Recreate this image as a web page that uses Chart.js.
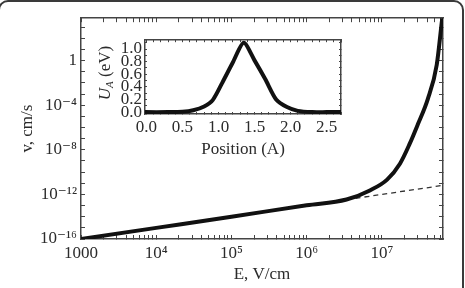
<!DOCTYPE html>
<html>
<head>
<meta charset="utf-8">
<script src="https://cdn.jsdelivr.net/npm/chart.js@4.4.0/dist/chart.umd.min.js"></script>
<style>
  body { margin: 0; background: #fff; }
  #wrap { position: relative; width: 465px; height: 288px; overflow: hidden; background: #fff; }
  #mainChart { position: absolute; left: 0; top: 0; }
  #insetChart { position: absolute; left: 95px; top: 25px; }
  #uLabel {
    position: absolute; left: 105px; top: 73px;
    transform: translate(-50%, -50%) rotate(-90deg);
    white-space: nowrap; color: #2b2b2b;
    font: 17px 'Liberation Serif', 'DejaVu Serif', serif;
  }
  #uLabel sub { font-size: 11px; font-style: italic; vertical-align: -3px; }
  #frame {
    position: absolute; left: -2px; top: 0; width: 466px; height: 320px;
    box-sizing: border-box; border: 2px solid #3a3a3a; border-radius: 10px;
  }
</style>
</head>
<body>
<div id="wrap">
  <canvas id="mainChart" width="465" height="288"></canvas>
  <canvas id="insetChart" width="255" height="140"></canvas>
  <div id="uLabel"><i>U</i><sub>A</sub> (eV)</div>
  <div id="frame"></div>
</div>
<script>
// main curve: field E (V/cm) vs velocity v (cm/s)
const fieldE = [1e3, 1e4, 1e5, 1e6, 3.39e6, 6.92e6, 1.175e7, 1.74e7, 2.34e7, 3.02e7, 4.07e7, 5.37e7, 6.31e7, 6.5e7];
const velocity = [1e-16, 1e-15, 1e-14, 1.05e-13, 3.47e-13, 2.29e-12, 2.14e-11, 5.75e-10, 3.39e-8, 2.04e-6, 3.39e-4, 0.437, 4365, 2e4];

// dashed linear extrapolation
const dashE = [3.4e6, 6.5e7];
const dashV = [3.4e-13, 6.5e-12];

// inset: barrier profile
const position = [-0.02, 0.3, 0.5, 0.65, 0.8, 0.92, 1.05, 1.2, 1.35, 1.5, 1.65, 1.8, 1.95, 2.1, 2.3, 2.5, 2.7];
const barrier = [0, 0, 0.005, 0.03, 0.09, 0.19, 0.46, 0.79, 1.1, 0.82, 0.52, 0.2, 0.08, 0.02, 0, 0, 0];

// tick labels
const xTickValues = [1e3, 1e4, 1e5, 1e6, 1e7];
const xTickLabels = ['1000', '10\u2074', '10\u2075', '10\u2076', '10\u2077'];
const yTickValues = [1e-16, 1e-12, 1e-8, 1e-4, 1];
const yTickLabels = ['10\u207B\u00B9\u2076', '10\u207B\u00B9\u00B2', '10\u207B\u2078', '10\u207B\u2074', '1'];
const insetXLabels = [0, 0.5, 1.0, 1.5, 2.0, 2.5];
const insetYLabels = [0, 0.2, 0.4, 0.6, 0.8, 1.0];

const serif = "'Liberation Serif', 'DejaVu Serif', serif";
const textColor = '#2b2b2b';
const axisColor = '#444';

const xMin = 1000, xMax = 6.5e7;
const yMin = 1e-16, yMax = 6500;

// minor ticks on x: 1..9 per decade, y: every decade
const xAllTicks = [];
for (let d = 1e3; d <= 1e7; d *= 10) {
    for (let m = 1; m <= 9; m++) {
        if (m * d <= xMax) xAllTicks.push(m * d);
    }
}
const yAllTicks = [];
for (let p = -16; p <= 3; p++) yAllTicks.push(Math.pow(10, p));

function labelFor(value, values, labels) {
    const i = values.findIndex(v => Math.abs(Math.log10(v) - Math.log10(value)) < 1e-6);
    return i >= 0 ? labels[i] : '';
}

function logAxis(pos, min, max, ticksList, size, labelFn, extra) {
    const horiz = pos === 'top' || pos === 'bottom';
    return Object.assign({
        type: 'logarithmic',
        position: pos,
        min: min,
        max: max,
        afterBuildTicks: s => { s.ticks = ticksList.map(v => ({ value: v })); },
        afterFit: s => { if (horiz) s.height = size; else s.width = size; },
        grid: { drawOnChartArea: false, tickLength: -4, color: axisColor, tickWidth: 1 },
        border: { display: true, color: axisColor, width: 1.5 },
        ticks: {
            autoSkip: false, maxRotation: 0, minRotation: 0, padding: 8,
            font: { family: serif, size: 17 }, color: textColor,
            callback: labelFn
        }
    }, extra || {});
}

new Chart(document.getElementById('mainChart'), {
    type: 'scatter',
    data: {
        datasets: [{
            data: fieldE.map((x, i) => ({ x: x, y: velocity[i] })),
            showLine: true,
            borderColor: '#111',
            borderWidth: 4,
            pointRadius: 0,
            cubicInterpolationMode: 'monotone'
        }, {
            data: dashE.map((x, i) => ({ x: x, y: dashV[i] })),
            showLine: true,
            borderColor: '#333',
            borderWidth: 1.3,
            borderDash: [5, 4],
            pointRadius: 0
        }]
    },
    options: {
        responsive: false,
        animation: false,
        layout: { padding: 0 },
        plugins: { legend: { display: false }, tooltip: { enabled: false } },
        scales: {
            x: logAxis('bottom', xMin, xMax, xAllTicks, 49,
                v => labelFor(v, xTickValues, xTickLabels),
                { title: { display: true, text: 'E, V/cm', color: textColor,
                           font: { family: serif, size: 17 }, padding: { top: 0, bottom: 3 } } }),
            x2: logAxis('top', xMin, xMax, xAllTicks, 15, () => ''),
            y: logAxis('left', yMin, yMax, yAllTicks, 81,
                v => labelFor(v, yTickValues, yTickLabels),
                { title: { display: true, text: 'v, cm/s', color: textColor,
                           font: { family: serif, size: 17 }, padding: { top: 17, bottom: 0 } } }),
            y2: logAxis('right', yMin, yMax, yAllTicks, 22, () => '')
        }
    }
});

// inset
const insetXAll = [];
for (let i = 0; i <= 27; i++) insetXAll.push(i / 10);
const insetYAll = [];
for (let i = 0; i <= 11; i++) insetYAll.push(i / 10);

function linAxis(pos, min, max, ticksList, size, labels, extra) {
    const horiz = pos === 'top' || pos === 'bottom';
    return Object.assign({
        type: 'linear',
        position: pos,
        min: min,
        max: max,
        afterBuildTicks: s => { s.ticks = ticksList.map(v => ({ value: v })); },
        afterFit: s => { if (horiz) s.height = size; else s.width = size; },
        grid: { drawOnChartArea: false, tickLength: -2, color: axisColor, tickWidth: 1 },
        border: { display: true, color: axisColor, width: 1.5 },
        ticks: {
            autoSkip: false, maxRotation: 0, minRotation: 0, padding: 5,
            font: { family: serif, size: 17 }, color: textColor,
            callback: v => {
                if (!labels) return '';
                const hit = labels.find(l => Math.abs(l - v) < 1e-6);
                return hit === undefined ? '' : hit.toFixed(1);
            }
        }
    }, extra || {});
}

new Chart(document.getElementById('insetChart'), {
    type: 'scatter',
    data: {
        datasets: [{
            data: position.map((x, i) => ({ x: x, y: barrier[i] })),
            showLine: true,
            borderColor: '#111',
            borderWidth: 4,
            pointRadius: 0,
            tension: 0.25
        }]
    },
    options: {
        responsive: false,
        animation: false,
        layout: { padding: 0 },
        plugins: { legend: { display: false }, tooltip: { enabled: false } },
        scales: {
            x: linAxis('bottom', -0.02, 2.7, insetXAll, 51, insetXLabels,
                { title: { display: true, text: 'Position (A)', color: textColor,
                           font: { family: serif, size: 17 }, padding: { top: 0, bottom: 5 } } }),
            x2: linAxis('top', -0.02, 2.7, insetXAll, 10, null),
            y: linAxis('left', -0.03, 1.14, insetYAll, 50, insetYLabels),
            y2: linAxis('right', -0.03, 1.14, insetYAll, 9, null)
        }
    }
});
</script>
</body>
</html>
